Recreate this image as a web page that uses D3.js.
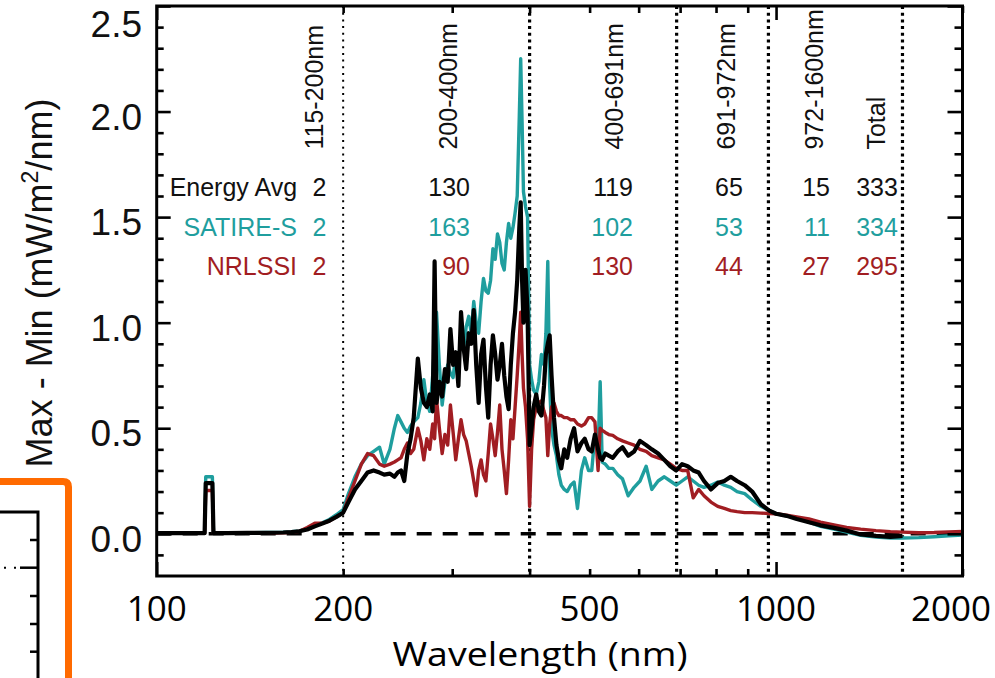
<!DOCTYPE html>
<html><head><meta charset="utf-8">
<script src="https://cdn.jsdelivr.net/npm/d3@7"></script>
<style>
html,body{margin:0;padding:0;background:#fff;}
svg{display:block;}
</style></head><body>
<svg id="chart" width="995" height="678"></svg>
<script>
// ---------------- DATA ----------------
const wavelength = [
  100,110,119.5,120,123,123.5,130,140,150,160,
  165,170,175,180,185,190,195,200,204,209,
  214,219,224,229,233,238,242,245,248,251,
  254,257,260,264,267,270,273,276,279,281,
  283,286,289,292,295,298,301,304,307,310,
  313,316,319,322,325,328,331,334,337,340,
  343,346,349,352,355,358,361,364,367,370,
  373,376,379,382,385,387,389,391,394,397,
  400,403,406,410,414,418,422,425,428,431,
  434,438,442,446,450,455,460,466,472,478,
  485,491,498,504,510,516,520,524,530,537,
  545,555,565,577,590,603,617,630,645,660,
  675,690,705,720,735,750,765,785,805,825,
  845,865,890,915,945,975,1000,1040,1080,1130,
  1180,1240,1300,1370,1450,1530,1600,1700,1800,1900,
  2000];
const energyAvg = [
  .003,.003,.003,.24,.24,.003,.003,.004,.004,.006,
  .008,.012,.02,.035,.048,.062,.08,.10,.15,.21,
  .25,.29,.30,.29,.28,.285,.27,.29,.30,.25,
  .38,.45,.55,.83,.69,.62,.60,.66,.58,1.29,
  .62,.72,.65,.78,.72,.97,.80,.86,.70,1.05,
  .88,.78,.95,.90,1.06,.80,.62,.85,.92,.70,
  .55,.80,.94,.85,.73,.80,.90,.75,.65,.59,
  .80,.95,1.05,1.20,1.45,1.57,1.20,1.00,1.25,1.05,
  .42,.50,.60,.66,.58,.56,.70,.85,.90,.94,
  .75,.55,.42,.35,.31,.40,.36,.45,.50,.39,
  .43,.45,.40,.39,.47,.40,.36,.35,.38,.37,
  .36,.39,.41,.37,.39,.44,.42,.40,.38,.35,
  .32,.30,.33,.32,.30,.29,.25,.21,.24,.25,
  .27,.25,.23,.20,.14,.11,.095,.085,.07,.055,
  .04,.028,.015,-.003,-.01,-.015,-.01,null,null,null,
  null];
const satireS = [
  .004,.004,.004,.27,.27,.004,.005,.005,.006,.008,
  .01,.014,.024,.04,.052,.068,.09,.115,.19,.27,
  .33,.37,.39,.41,.33,.40,.50,.56,.53,.50,
  .48,.51,.53,.55,.62,.73,.62,.58,.75,.90,
  1.05,.80,.61,.72,.80,.76,.74,.85,.82,.93,
  .88,.98,1.03,.95,1.10,1.00,.95,1.10,1.21,1.15,
  1.14,1.20,1.35,1.30,1.42,1.38,1.28,1.25,1.38,1.47,
  1.40,1.45,1.52,1.60,1.98,2.25,1.95,1.62,1.55,1.50,
  .80,.73,.68,.66,.72,.85,.80,.95,1.29,.70,
  .50,.42,.37,.28,.23,.21,.20,.23,.245,.12,
  .30,.36,.30,.30,.47,.40,.72,.34,.33,.31,
  .31,.28,.26,.18,.22,.25,.32,.21,.25,.27,
  .25,.23,.25,.27,.25,.23,.22,.23,.245,.23,
  .22,.20,.19,.16,.13,.11,.095,.085,.075,.055,
  .035,.022,.008,-.007,-.015,-.02,-.02,-.018,-.014,-.01,
  -.006];
const nrlssi = [
  .002,.002,.002,.205,.205,.002,.002,.003,.003,.005,
  .007,.012,.03,.05,.05,.06,.08,.10,.17,.25,
  .33,.38,.37,.33,.32,.33,.34,.35,.36,.40,
  .43,.38,.40,.50,.44,.35,.45,.40,.52,.45,
  .64,.50,.38,.47,.42,.61,.48,.35,.45,.54,
  .47,.44,.38,.32,.25,.18,.30,.35,.28,.25,
  .38,.52,.45,.37,.48,.61,.40,.30,.19,.35,
  .54,.45,.60,.75,.92,1.05,.85,.69,.60,.45,
  .13,.40,.54,.60,.62,.63,.58,.55,.37,.52,
  .60,.62,.58,.56,.56,.55,.55,.54,.54,.52,
  .51,.52,.55,.55,.53,.30,.50,.49,.48,.47,
  .466,.45,.44,.43,.42,.40,.39,.37,.36,.35,
  .33,.31,.30,.30,.17,.21,.18,.15,.13,.12,
  .11,.105,.10,.10,.098,.096,.095,.088,.08,.07,
  .055,.042,.03,.022,.015,.01,.008,.005,.006,.009,
  .011];

const bandNames = ["115-200nm","200-400nm","400-691nm","691-972nm","972-1600nm","Total"];
const rowNames = ["Energy Avg","SATIRE-S","NRLSSI"];
const energyAvgTotals = [2,130,119,65,15,333];
const satireSTotals = [2,163,102,53,11,334];
const nrlssiTotals = [2,90,130,44,27,295];
const bandEdges = [200,400,691,972,1600];
const xTickLabels = [100,200,500,1000,2000];
const xMajorTicks = [100,1000];
const xMinorTicks = [200,300,400,500,600,700,800,900,2000];
const yTickLabels = [0.0,0.5,1.0,1.5,2.0,2.5];

// ---------------- LAYOUT ----------------
const L = 156.7, R = 962.5, T = 6, B = 576;
const COL = { black: "#000000", teal: "#1f9e9e", red: "#a11d22", text: "#111111" };
const rowAnchorY = [1.6, 1.41, 1.225];
const bandLabelBaseY = 1.82;
const rowNameRightWl = 168.5;
const columnRightWl = [188, 320.5, 587.5, 884, 1222, 1573];
const bandLabelWl = [185.6, 305.3, 566.2, 858.7, 1190.6, 1499];

const svg = d3.select("#chart");
const x = d3.scaleLog().domain([100, 2000]).range([L, R]);
const y = d3.scaleLinear().domain([-0.2, 2.5]).range([B, T]);

// ---- fragment of the neighbouring panel at the left edge ----
svg.append("path").attr("d", "M-5,481.5 H63 Q68.5,481.5 68.5,487 V690")
  .attr("fill", "none").attr("stroke", "#ff6a00").attr("stroke-width", 7);
svg.append("path").attr("d", "M-5,512 H38 V690")
  .attr("fill", "none").attr("stroke", "#000").attr("stroke-width", 3);
const fragTicks = [540, 567.7, 596, 624, 651.7];
fragTicks.forEach((ty, i) => {
  svg.append("line").attr("x1", 38).attr("x2", i === 1 ? 20 : 30)
    .attr("y1", ty).attr("y2", ty).attr("stroke", "#000").attr("stroke-width", 2.5);
});
svg.append("line").attr("x1", 4).attr("x2", 18).attr("y1", 567.7).attr("y2", 567.7)
  .attr("stroke", "#000").attr("stroke-width", 2).attr("stroke-dasharray", "2,8");

// ---- dotted band boundaries ----
svg.append("g").selectAll("line").data(bandEdges).join("line")
  .attr("x1", d => x(d)).attr("x2", d => x(d))
  .attr("y1", T).attr("y2", B)
  .attr("stroke", "#000")
  .attr("stroke-width", (d, i) => i === 0 ? 2 : 3.2)
  .attr("stroke-dasharray", (d, i) => i === 0 ? "2,4.7" : "3,3.7");

// ---- zero dashed line ----
svg.append("line").attr("x1", L).attr("x2", R).attr("y1", y(0)).attr("y2", y(0))
  .attr("stroke", "#000").attr("stroke-width", 3.5).attr("stroke-dasharray", "15,11");

// ---- curves ----
svg.append("clipPath").attr("id", "plotclip").append("rect")
  .attr("x", L).attr("y", T).attr("width", R - L).attr("height", B - T);
const line = d3.line()
  .defined(d => d[1] !== null)
  .x(d => x(d[0])).y(d => y(d[1]));
const series = [
  { vals: satireS, color: COL.teal, w: 3.4 },
  { vals: nrlssi, color: COL.red, w: 3.4 },
  { vals: energyAvg, color: COL.black, w: 4.2 }
];
const curves = svg.append("g").attr("clip-path", "url(#plotclip)");
series.forEach(s => {
  curves.append("path")
    .datum(wavelength.map((w, i) => [w, s.vals[i]]))
    .attr("d", line).attr("fill", "none")
    .attr("stroke", s.color).attr("stroke-width", s.w)
    .attr("stroke-linejoin", "round");
});

// ---- axes (ticks only) ----
function styleAxis(g) {
  g.select(".domain").remove();
  g.selectAll(".tick line").attr("stroke", "#000").attr("stroke-width", 2.6);
  g.selectAll("text").remove();
}
const yMinor = d3.range(-1, 25).map(v => v / 10).filter(v => Math.round(v * 10) % 5 !== 0);
svg.append("g").attr("transform", `translate(0,${B})`)
  .call(d3.axisBottom(x).tickValues(xMinorTicks).tickSize(-7)).call(styleAxis);
svg.append("g").attr("transform", `translate(0,${B})`)
  .call(d3.axisBottom(x).tickValues(xMajorTicks).tickSize(-14)).call(styleAxis);
svg.append("g").attr("transform", `translate(0,${T})`)
  .call(d3.axisTop(x).tickValues(xMinorTicks).tickSize(-7)).call(styleAxis);
svg.append("g").attr("transform", `translate(0,${T})`)
  .call(d3.axisTop(x).tickValues(xMajorTicks).tickSize(-14)).call(styleAxis);
svg.append("g").attr("transform", `translate(${L},0)`)
  .call(d3.axisLeft(y).tickValues(yMinor).tickSize(-7)).call(styleAxis);
svg.append("g").attr("transform", `translate(${L},0)`)
  .call(d3.axisLeft(y).tickValues(yTickLabels).tickSize(-14)).call(styleAxis);
svg.append("g").attr("transform", `translate(${R},0)`)
  .call(d3.axisRight(y).tickValues(yMinor).tickSize(-8)).call(styleAxis);
svg.append("g").attr("transform", `translate(${R},0)`)
  .call(d3.axisRight(y).tickValues(yTickLabels).tickSize(-15)).call(styleAxis);

// frame
svg.append("rect").attr("x", L).attr("y", T).attr("width", R - L).attr("height", B - T)
  .attr("fill", "none").attr("stroke", "#000").attr("stroke-width", 3);

// ---- tick labels ----
svg.append("g").selectAll("text").data(yTickLabels).join("text")
  .attr("x", 142).attr("y", d => Math.max(y(d) + 18, 37))
  .attr("text-anchor", "end")
  .attr("font-family", "'Liberation Sans', Arial, sans-serif").attr("font-size", 37)
  .attr("fill", COL.text).text(d => d.toFixed(1));

const xl = svg.append("g").selectAll("text").data(xTickLabels).join("text")
  .attr("x", d => x(d)).attr("y", 621)
  .attr("text-anchor", "middle")
  .attr("font-family", "'Open Sans', sans-serif").attr("font-size", 34)
  .attr("textLength", d => String(d).length * 20)
  .attr("lengthAdjust", "spacingAndGlyphs")
  .attr("fill", "#000").text(d => d);
xl.each(function(d) {
  const w = String(d).length * 20;
  const cx = x(d);
  if (cx + w / 2 > 991) d3.select(this).attr("x", 991 - w / 2);
});

// axis titles
svg.append("text").attr("x", 540).attr("y", 666).attr("text-anchor", "middle")
  .attr("font-family", "'Open Sans', sans-serif").attr("font-size", 32)
  .attr("textLength", 295).attr("lengthAdjust", "spacingAndGlyphs")
  .attr("fill", "#000").text("Wavelength (nm)");

const yt = svg.append("text").attr("transform", "translate(52,283) rotate(-90)")
  .attr("text-anchor", "middle")
  .attr("font-family", "'Liberation Sans', Arial, sans-serif").attr("font-size", 36)
  .attr("fill", COL.text);
yt.append("tspan").text("Max - Min (mW/m");
yt.append("tspan").attr("dy", -14).attr("font-size", 23).text("2");
yt.append("tspan").attr("dy", 14).text("/nm)");

// ---- band annotations ----
const annFont = "'Liberation Sans', Arial, sans-serif";
svg.append("g").selectAll("text").data(bandNames).join("text")
  .attr("transform", (d, i) => `translate(${x(bandLabelWl[i])},${y(bandLabelBaseY)}) rotate(-90)`)
  .attr("text-anchor", "start")
  .attr("font-family", annFont).attr("font-size", 25)
  .attr("fill", COL.text).text(d => d);

const rows = [
  { name: rowNames[0], vals: energyAvgTotals, color: COL.text },
  { name: rowNames[1], vals: satireSTotals, color: COL.teal },
  { name: rowNames[2], vals: nrlssiTotals, color: COL.red }
];
rows.forEach((r, ri) => {
  const g = svg.append("g");
  g.append("text").attr("x", x(rowNameRightWl)).attr("y", y(rowAnchorY[ri]))
    .attr("text-anchor", "end").attr("font-family", annFont).attr("font-size", 25)
    .attr("fill", r.color).text(r.name);
  g.selectAll("text.v").data(r.vals).join("text").attr("class", "v")
    .attr("x", (d, i) => x(columnRightWl[i])).attr("y", y(rowAnchorY[ri]))
    .attr("text-anchor", "end").attr("font-family", annFont).attr("font-size", 25)
    .attr("fill", r.color).text(d => d);
});
</script>
</body></html>
